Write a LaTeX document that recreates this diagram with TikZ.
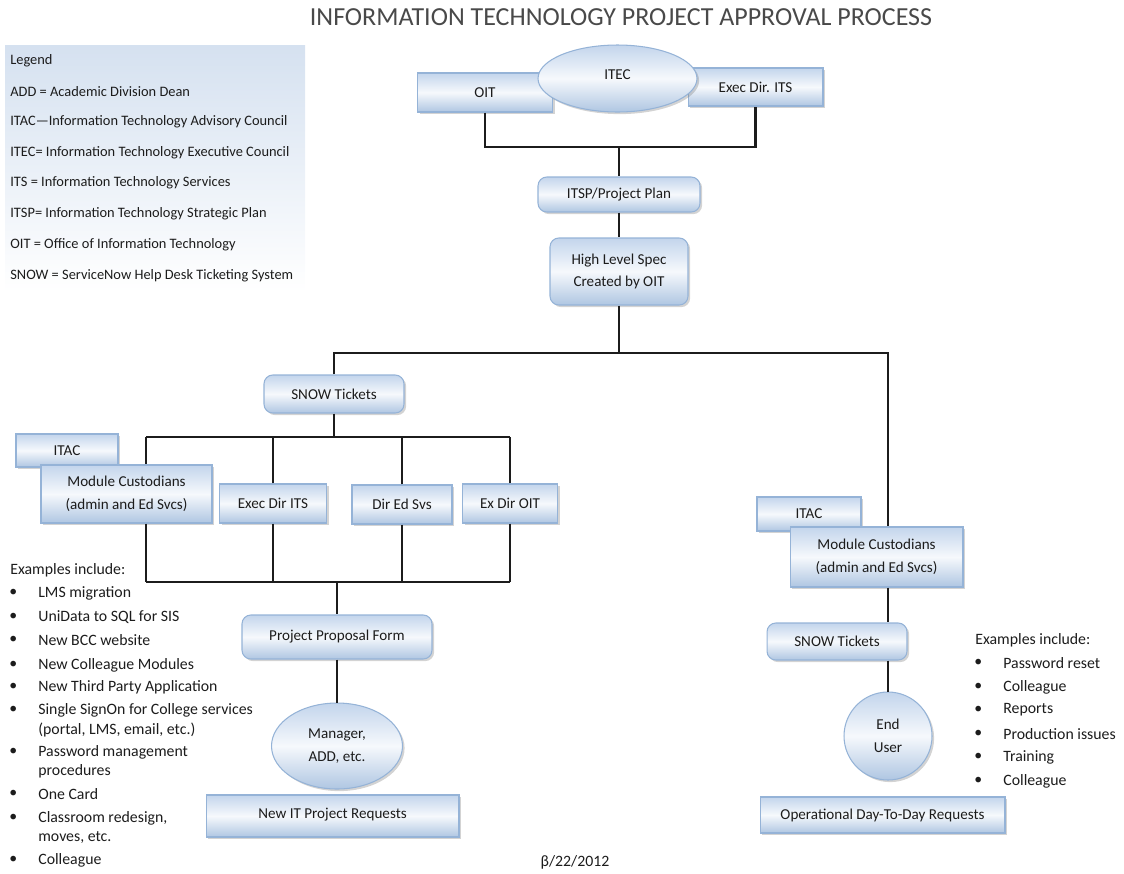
\documentclass[tikz,border=0pt]{standalone}
\usepackage{fontspec}
\setmainfont{Carlito}
\usetikzlibrary{shapes.geometric,shadows}
\definecolor{boxtop}{HTML}{C3D5EC}
\definecolor{boxbot}{HTML}{AFC6E2}
\definecolor{boxline}{HTML}{95B3D7}
\definecolor{legtop}{HTML}{D5E1F0}
\definecolor{ink}{HTML}{1C1C1C}

\tikzset{
  flowbox/.style={draw=boxline, line width=0.6pt, top color=boxtop, bottom color=boxbot,
    middle color=white!85!boxtop, inner sep=0pt, align=center, text=ink,
    font=\fontsize{8.6}{13}\selectfont,
    drop shadow={shadow xshift=1.2pt, shadow yshift=-1.2pt, opacity=0.35}},
  roundbox/.style={flowbox, rounded corners=5pt},
  ovalnode/.style={flowbox, ellipse},
  link/.style={line width=1.2pt, draw=ink},
  listtext/.style={anchor=west, inner sep=0pt, text=ink, font=\fontsize{9}{10}\selectfont},
  legtext/.style={anchor=west, inner sep=0pt, text=ink, font=\fontsize{8.2}{9}\selectfont},
}

\begin{document}
\begin{tikzpicture}[x=0.02cm,y=-0.02cm]
\useasboundingbox (0,0) rectangle (1124,873);

\node[text=ink!80, inner sep=0pt] (title) at (621,17)
  {\fontsize{14.8}{17}\selectfont INFORMATION TECHNOLOGY PROJECT APPROVAL PROCESS};

% legend
\fill[top color=legtop, bottom color=white] (5,45) rectangle (305,292);
\foreach \yy/\txt [count=\i] in {61/Legend, 92/{ADD = Academic Division Dean},
    122/{ITAC—Information Technology Advisory Council},
    153/{ITEC= Information Technology Executive Council},
    183/{ITS = Information Technology Services},
    214/{ITSP= Information Technology Strategic Plan},
    245/{OIT = Office of Information Technology},
    276/{SNOW = ServiceNow Help Desk Ticketing System}}
  \node[legtext] (leg\i) at (10,\yy) {\txt};

% top
\node[flowbox, minimum width=2.7cm, minimum height=0.78cm] (oit) at (485,92.5) {OIT};
\node[flowbox, minimum width=2.7cm, minimum height=0.76cm] (execits) at (755.5,87) {Exec Dir. ITS};
\node[ovalnode, minimum width=3.18cm, minimum height=1.34cm] (itec) at (617.5,78.5) {\raisebox{5pt}{ITEC}};
\node[roundbox, minimum width=3.24cm, minimum height=0.7cm] (itsp) at (619,194.5) {ITSP/Project Plan};
\node[roundbox, minimum width=2.76cm, minimum height=1.34cm] (spec) at (619,271.5) {High Level Spec\\Created by OIT};

\coordinate (topjoin) at (619,147);
\draw[link] (oit.south) |- (topjoin) -| (execits.south);
\draw[link] (topjoin) -- (itsp.north);
\draw[link] (itsp) -- (spec);

% left branch
\node[roundbox, minimum width=2.8cm, minimum height=0.76cm] (snowl) at (334,394) {SNOW Tickets};
\node[flowbox, minimum width=2.04cm, minimum height=0.66cm] (itacl) at (67,450.5) {ITAC};
\node[flowbox, minimum width=3.42cm, minimum height=1.16cm] (modl) at (126.5,494) {Module Custodians\\(admin and Ed Svcs)};
\node[flowbox, minimum width=2.14cm, minimum height=0.78cm] (execl) at (273,503.5) {Exec Dir ITS};
\node[flowbox, minimum width=2cm, minimum height=0.78cm] (dired) at (402,504.5) {Dir Ed Svs};
\node[flowbox, minimum width=1.9cm, minimum height=0.78cm] (exoit) at (510,503.5) {Ex Dir OIT};
\node[roundbox, minimum width=3.8cm, minimum height=0.88cm] (prop) at (337,637) {Project Proposal Form};
\node[ovalnode, minimum width=2.62cm, minimum height=1.72cm] (mgr) at (337,746) {Manager,\\ADD, etc.};
\node[flowbox, minimum width=5.06cm, minimum height=0.84cm] (newit) at (332.5,816) {\raisebox{3pt}{New IT Project Requests}};

% right branch
\node[flowbox, minimum width=2.08cm, minimum height=0.68cm] (itacr) at (809,514) {ITAC};
\node[flowbox, minimum width=3.46cm, minimum height=1.2cm] (modr) at (876.5,557) {Module Custodians\\(admin and Ed Svcs)};
\node[roundbox, minimum width=2.8cm, minimum height=0.74cm] (snowr) at (837,641.5) {SNOW Tickets};
\node[flowbox, circle, minimum size=1.76cm] (eu) at (888,736) {End\\User};
\node[flowbox, minimum width=4.9cm, minimum height=0.72cm] (opr) at (882.5,815) {Operational Day-To-Day Requests};

% connectors
\coordinate (split) at (619,353);
\coordinate (rdrop) at (888,353);
\draw[link] (spec.south) -- (split);
\draw[link] (snowl.north) |- (split) -- (rdrop) -- (rdrop |- modr.north);
\draw[link] (rdrop |- modr.south) -- (rdrop |- snowr.north);
\draw[link] (rdrop |- snowr.south) -- (eu.north);

\coordinate (busl) at (146,437);
\coordinate (busr) at (510,437);
\draw[link] (busl) -- (busr);
\draw[link] (snowl.south) -- (snowl.south |- busl);
\draw[link] (busl) -- (busl |- modl.north);
\draw[link] (execl.north) -- (execl.north |- busl);
\draw[link] (dired.north) -- (dired.north |- busl);
\draw[link] (exoit.north) -- (exoit.north |- busl);

\coordinate (lbusl) at (146,582);
\coordinate (lbusr) at (510,582);
\draw[link] (lbusl) -- (lbusr);
\draw[link] (lbusl |- modl.south) -- (lbusl);
\draw[link] (execl.south) -- (execl.south |- lbusl);
\draw[link] (dired.south) -- (dired.south |- lbusl);
\draw[link] (exoit.south) -- (exoit.south |- lbusl);
\draw[link] (prop.north |- lbusl) -- (prop.north);
\draw[link] (prop) -- (mgr);

% examples
\node[listtext] (exl) at (10,570) {Examples include:};
\foreach \yy/\txt [count=\i] in {593/{LMS migration}, 617/{UniData to SQL for SIS},
    640/{New BCC website}, 665/{New Colleague Modules}, 687/{New Third Party Application},
    710/{Single SignOn for College services}, 752/{Password management},
    794/{One Card}, 818/{Classroom redesign,}, 860/{Colleague}}
  {\node[listtext] (lb\i) at (9,\yy) {\textbullet};
   \node[listtext] (li\i) at (38,\yy) {\txt};}
\node[listtext] (lc1) at (38,730) {(portal, LMS, email, etc.)};
\node[listtext] (lc2) at (38,771) {procedures};
\node[listtext] (lc3) at (38,837) {moves, etc.};

\node[listtext] (exr) at (975,640) {Examples include:};
\foreach \yy/\txt [count=\i] in {663/{Password reset}, 687/{Colleague}, 710/{Reports},
    734/{Production issues}, 757/{Training}, 781/{Colleague}}
  {\node[listtext] (rb\i) at (974,\yy) {\textbullet};
   \node[listtext] (ri\i) at (1003,\yy) {\txt};}

\node[listtext, anchor=center] (date) at (575,862) {β/22/2012};
\end{tikzpicture}
\end{document}
